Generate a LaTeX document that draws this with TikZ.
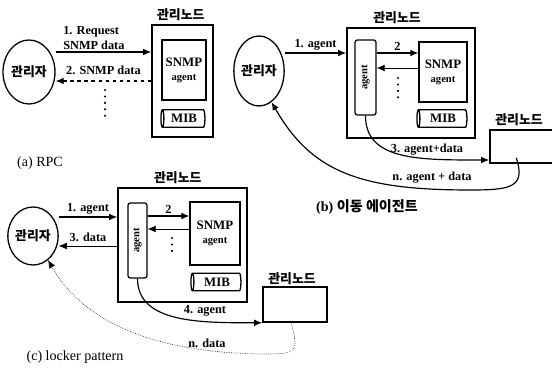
\documentclass[tikz,border=0pt]{standalone}
\usepackage{fontspec}
\setmainfont{Liberation Serif}
\newfontfamily\kr{Noto Sans CJK KR}
\usepackage{graphicx}
\usetikzlibrary{arrows.meta,positioning,calc,shapes.geometric}
\tikzset{
  mgr/.style={draw,ellipse,line width=1.1pt,inner sep=0pt,
    font=\kr\bfseries\fontsize{11}{13}\selectfont},
  host/.style={draw,line width=1.3pt,inner sep=0pt},
  agentbox/.style={draw,line width=1.1pt,rounded corners=2pt,inner sep=0pt,
    minimum height=22.5mm,font=\bfseries\fontsize{9}{10}\selectfont},
  snmpbox/.style={draw,line width=1.1pt,inner sep=0pt,align=center,
    font=\bfseries\fontsize{11}{14}\selectfont},
  mib/.style={draw,cylinder,shape border rotate=180,aspect=0.35,line width=1.1pt,
    inner sep=0pt,minimum width=5.2mm,font=\bfseries\fontsize{11}{12}\selectfont},
  title/.style={font=\kr\bfseries\fontsize{11}{12}\selectfont,inner sep=1pt},
  lbl/.style={font=\bfseries\fontsize{10.5}{13}\selectfont,inner sep=1.5pt},
  caption/.style={font=\fontsize{12}{14}\selectfont,inner sep=0pt},
  arr/.style={-{Latex[length=2.4mm,width=2mm]},line width=1pt},
  back/.style={-{Latex[length=2.4mm,width=2mm]},line width=0.5pt},
  dots/.style={line width=2pt,dash pattern=on 0pt off 5.5pt,line cap=round}
}
\begin{document}
\begin{tikzpicture}[x=0.3mm,y=-0.3mm]
\useasboundingbox (0,0) rectangle (552,371);

% (a) RPC
\node[mgr,minimum width=15.6mm,minimum height=19.2mm] (mgrA) at (29,72) {관리자};
\node[host,minimum width=18.3mm,minimum height=33.6mm] (nodeA) at (182.5,81) {};
\node[title,above=0.6mm of nodeA.north,xshift=-0.5mm] (ttlA) {관리노드};
\node[snmpbox,minimum width=13.2mm,minimum height=18mm] (snmpA) at (184,70) {SNMP\\[-2pt]{\fontsize{9}{10}\selectfont agent}};
\node[mib,minimum height=13.2mm] (mibA) at (184,118.5) {MIB};
\draw[arr] (mgrA.east |- 0,52) -- (nodeA.west |- 0,52)
  node[lbl,pos=0.4,above,align=left] {1. Request\\SNMP data};
\draw[arr,dashed] (nodeA.west) -- (mgrA.east |- nodeA.west)
  node[lbl,midway,above=3pt] {2. SNMP data};
\draw[dots] (105,90) -- (105,117);
\node[caption] (capA) at (40,163) {(a) RPC};

% (b) mobile agent
\node[mgr,minimum width=14.4mm,minimum height=21mm] (mgrB) at (259,71) {관리자};
\node[host,minimum width=38.4mm,minimum height=33mm] (nodeB) at (411,83) {};
\node[title,above=0.6mm of nodeB.north,xshift=-4.2mm] (ttlB) {관리노드};
\node[agentbox,minimum width=6.3mm] (agentB) at (365.5,77.5) {\rotatebox{90}{agent}};
\node[snmpbox,minimum width=14.4mm,minimum height=18mm] (snmpB) at (443,72) {SNMP\\[-2pt]{\fontsize{9}{10}\selectfont agent}};
\node[mib,minimum height=15mm] (mibB) at (443,118.5) {MIB};
\node[host,minimum width=21mm,minimum height=9.9mm] (remB) at (525,146.5) {};
\node[title,above=0.6mm of remB.north,xshift=-1.8mm] (ttlR) {관리노드};
\draw[arr] (mgrB.east |- 0,53) -- (nodeB.west |- 0,53)
  node[lbl,midway,above] {1. agent};
\draw[arr] (agentB.east |- 0,53) -- (snmpB.west |- 0,53)
  node[lbl,midway,above] {2};
\draw[back] (snmpB.west |- 0,68) -- (agentB.east |- 0,68);
\draw[dots] (398,78) -- (398,99);
\draw[arr] (agentB.south) .. controls +(0,45) and +(-70,0) .. (remB.west |- 0,160);
\node[lbl] (l3B) at (427,150) {3. agent+data};
\draw[arr] ($(remB.south west)+(27,-6)$) .. controls +(10,30) and +(40,0) .. (470,190)
  .. controls +(-110,0) and +(40,70) .. (mgrB.-68);
\node[lbl] (lnB) at (432,178) {n. agent + data};
\node[caption,font=\bfseries\fontsize{12}{14}\selectfont] (capB) at (367,207) {(b) {\kr 이동 에이전트}};

% (c) locker pattern
\node[mgr,minimum width=15mm,minimum height=17.4mm] (mgrC) at (33,236) {관리자};
\node[host,minimum width=38.7mm,minimum height=34.2mm] (nodeC) at (182.5,245) {};
\node[title,above=0.6mm of nodeC.north,xshift=-1.4mm] (ttlC) {관리노드};
\node[agentbox,minimum width=5.7mm] (agentC) at (137.5,240.5) {\rotatebox{90}{agent}};
\node[snmpbox,minimum width=15mm,minimum height=18.9mm] (snmpC) at (215,233.5) {SNMP\\[-2pt]{\fontsize{9}{10}\selectfont agent}};
\node[mib,minimum height=15mm] (mibC) at (217,282) {MIB};
\node[host,minimum width=19.2mm,minimum height=10.5mm] (remC) at (295,304.5) {};
\node[title,above=0mm of remC.north,xshift=-0.9mm] (ttlS) {관리노드};
\draw[arr] (mgrC.east |- 0,217) -- (nodeC.west |- 0,217)
  node[lbl,midway,above] {1. agent};
\draw[back] (nodeC.west |- 0,246) -- (mgrC.east |- 0,246)
  node[lbl,midway,above,yshift=2pt] {3. data};
\draw[arr] (agentC.east |- 0,216) -- (snmpC.west |- 0,216)
  node[lbl,midway,above] {2};
\draw[back] (snmpC.west |- 0,229) -- (agentC.east |- 0,229);
\draw[dots] (172,238) -- (172,253);
\draw[arr] (agentC.south) .. controls +(0,45) and +(-60,0) .. (remC.south west);
\node[lbl] (l4C) at (205,311) {4. agent};
\draw[back,densely dotted] ($(remC.south west)+(29,0)$) .. controls +(6,25) and +(30,0) .. (270,354)
  .. controls +(-100,0) and +(40,70) .. (mgrC.-58);
\node[lbl] (lnC) at (207,343) {n. data};
\node[caption] (capC) at (75,357) {(c) locker pattern};
\end{tikzpicture}
\end{document}
